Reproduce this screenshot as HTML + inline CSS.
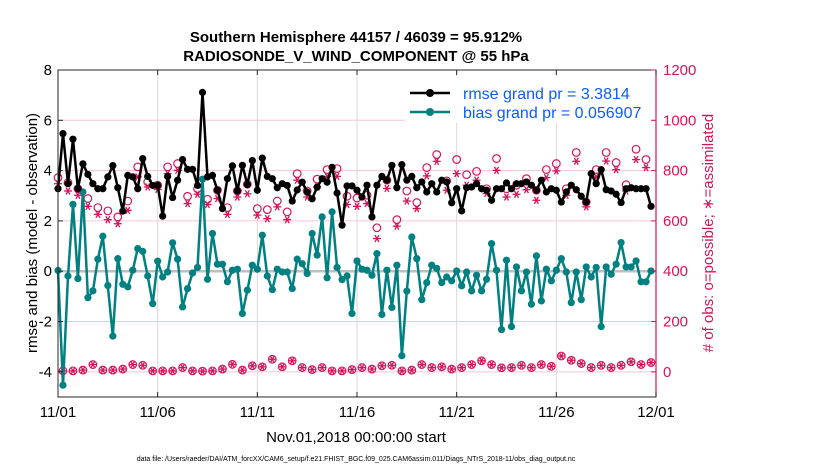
<!DOCTYPE html>
<html><head><meta charset="utf-8"><style>
body{margin:0;background:#fff;}
svg{display:block;font-family:"Liberation Sans",sans-serif;}
</style></head><body>
<svg id="chart" width="830" height="470" viewBox="0 0 830 470">
<text x="356" y="42" text-anchor="middle" font-size="15" font-weight="bold">Southern Hemisphere 44157 / 46039 = 95.912%</text>
<text x="356" y="61" text-anchor="middle" font-size="15" font-weight="bold">RADIOSONDE_V_WIND_COMPONENT @ 55 hPa</text>
<g id="grid"></g>
<g id="series"></g>
<rect x="58" y="70" width="598" height="327" fill="none" stroke="#262626" stroke-width="1"/>
<line x1="656" y1="70" x2="656" y2="397" stroke="#d6145a" stroke-width="1.2"/>
<g id="axes"></g>
<text transform="translate(37,233) rotate(-90)" text-anchor="middle" font-size="15">rmse and bias (model - observation)</text>
<text transform="translate(713,233) rotate(-90)" text-anchor="middle" font-size="15" fill="#d6145a"># of obs: o=possible; ∗=assimilated</text>
<text x="356" y="442" text-anchor="middle" font-size="15">Nov.01,2018 00:00:00 start</text>
<text x="356" y="461" text-anchor="middle" font-size="7">data file: /Users/raeder/DAI/ATM_forcXX/CAM6_setup/f.e21.FHIST_BGC.f09_025.CAM6assim.011/Diags_NTrS_2018-11/obs_diag_output.nc</text>
<g>
<rect x="405" y="76" width="246" height="47" fill="#fff"/>
<line x1="410" y1="93" x2="450" y2="93" stroke="#000" stroke-width="2.5"/>
<circle cx="430" cy="93" r="4" fill="#000"/>
<text x="463" y="99" font-size="16" fill="#0a5cff">rmse grand pr = 3.3814</text>
<line x1="410" y1="112" x2="450" y2="112" stroke="#008080" stroke-width="2.5"/>
<circle cx="430" cy="112" r="4" fill="#008080"/>
<text x="463" y="118" font-size="16" fill="#0a5cff">bias grand pr = 0.056907</text>
</g>
</svg>
<script>
const xTickLabels=["11/01","11/06","11/11","11/16","11/21","11/26","12/01"];
const xTickDays=[0,5,10,15,20,25,30];
const leftTicks=[-4,-2,0,2,4,6,8];
const rightTicks=[0,200,400,600,800,1000,1200];
const rmse=[3.28,5.47,3.48,5.25,3.28,4.27,3.85,3.48,3.28,3.28,3.75,4.2,3.32,2.39,3.81,3.75,3.28,4.48,3.77,3.41,3.41,2.19,3.77,2.93,3.62,4.44,4.05,4.05,3.41,7.11,3.75,
3.81,3.22,2.49,3.68,4.19,3.19,4.21,3.44,4.4,3.22,4.5,3.77,3.68,3.32,3.48,3.41,2.79,3.23,3.54,3.15,2.88,3.34,3.68,3.54,4.13,3.11,1.83,3.39,3.39,3.22,
2.95,3.42,2.16,3.42,3.77,3.62,4.21,3.32,4.24,3.62,3.77,3.32,3.55,3.15,3.48,3.15,3.62,3.55,2.72,3.28,2.4,3.32,3.35,3.48,3.28,3.22,2.82,3.28,3.28,3.51,
3.28,3.48,3.48,3.55,3.42,3.22,3.62,3.15,3.28,3.22,2.75,3.15,3.42,3.24,2.98,2.75,3.88,3.48,4.04,3.24,3.19,3.06,2.73,3.28,3.32,3.28,3.28,3.28,2.58];
const bias=[0.03,-4.53,-0.19,2.66,-0.29,3.15,-1.05,-0.78,0.48,1.39,-0.57,-2.58,0.5,-0.52,-0.62,0.04,0.9,0.79,-0.19,-1.29,0.4,-0.23,-0.03,1.13,0.48,-1.42,-0.69,-0.07,0.15,3.66,-0.32,
1.5,0.28,0.28,-0.42,0.04,0.08,-1.68,-0.75,0.24,0.08,1.43,-0.19,-0.73,0.08,-0.03,-0.03,-0.69,0.48,0.3,-0.09,1.5,0.64,2.16,-0.26,2.36,0.15,-0.33,-0.19,-1.68,0.41,
0.08,0.04,-0.16,0.7,-1.72,0.04,-1.44,0.24,-3.36,-0.79,1.36,0.5,-1.13,-0.45,0.24,0.11,-0.45,-0.23,-0.38,0.01,-0.58,-0.03,-0.78,-0.16,-0.78,-0.32,1.1,0.04,-2.32,0.44,
-2.2,0.17,-0.78,-0.03,-1.31,0.61,-1.18,0.08,-0.38,0.04,0.5,-0.03,-1.25,-0.03,-1.13,0.17,-0.23,0.15,-2.2,0.17,-0.12,0.28,1.14,0.17,0.17,0.41,-0.42,-0.42,0.01];
const obsPossible=[772,752,728,689,653,640,616,679,815,755,742,815,828,698,728,686,
722,653,719,746,649,645,679,636,788,719,766,804,808,698,691,
702,573,762,605,719,673,812,864,759,844,784,797,728,848,728,
742,768,722,804,828,728,872,675,804,872,832,744,885,844];
const obsAssim=[748,719,702,658,626,605,589,642,775,735,725,788,801,669,706,665,
689,626,695,708,623,609,656,605,762,695,735,777,777,665,658,
669,530,729,579,679,649,779,837,722,788,742,762,709,801,695,
706,724,682,772,799,702,837,656,775,838,804,719,844,812];
const obsLow=[4,4,7,29,7,7,11,29,26,4,4,4,17,4,3,
4,11,30,7,24,20,50,20,44,17,9,17,4,4,9,
17,11,24,26,4,7,29,17,20,11,17,29,44,29,16,
17,26,17,29,22,63,46,33,17,26,17,26,40,29,37];

const NS="http://www.w3.org/2000/svg";
const X0=58,X1=656,Y0=70,Y1=397;
const xDay=d=>X0+d*(X1-X0)/30;
const yL=v=>Y1-(v+5)*(Y1-Y0)/13;
const yR=o=>yL(o/100-4);
function mk(tag,attrs,parent){const e=document.createElementNS(NS,tag);for(const k in attrs)e.setAttribute(k,attrs[k]);parent.appendChild(e);return e;}
const grid=document.getElementById('grid'),axes=document.getElementById('axes'),ser=document.getElementById('series');

xTickDays.forEach((d,i)=>{
  const x=xDay(d);
  if(i>0&&i<xTickDays.length-1){const g=mk('line',{x1:x,y1:Y0,x2:x,y2:Y1,stroke:'#d9d9d9','stroke-width':1},grid);
  
  }
  mk('line',{x1:x,y1:Y1,x2:x,y2:Y1-5,stroke:'#262626'},axes);
  mk('line',{x1:x,y1:Y0,x2:x,y2:Y0+5,stroke:'#262626'},axes);
  const t=mk('text',{x:x,y:417,'text-anchor':'middle','font-size':15},axes);
  t.textContent=xTickLabels[i];
  
  
});
rightTicks.forEach(r=>{
  const y=yR(r);
  const g=mk('line',{x1:X0,y1:y,x2:X1,y2:y,stroke:'#f3c6d6','stroke-width':1},grid);
  
  
  mk('line',{x1:X1,y1:y,x2:X1-5,y2:y,stroke:'#d6145a'},axes);
  const t=mk('text',{x:663,y:y+5,'font-size':15,fill:'#d6145a'},axes);
  t.textContent=r;
  
  
});
leftTicks.forEach(v=>{
  const y=yL(v);
  mk('line',{x1:X0,y1:y,x2:X0+5,y2:y,stroke:'#262626'},axes);
  const t=mk('text',{x:52,y:y+5,'text-anchor':'end','font-size':15},axes);
  t.textContent=v;
  
  
});
const zl=mk('line',{x1:X0,y1:yL(0),x2:X1,y2:yL(0),stroke:'#bfbfbf','stroke-width':2.5},grid);



function asterisk(cx,cy,parent){
  const g=mk('g',{stroke:'#d6145a','stroke-width':1.3},parent);
  const r=4;
  mk('line',{x1:cx-r,y1:cy,x2:cx+r,y2:cy},g);
  mk('line',{x1:cx-r*0.5,y1:cy-r*0.87,x2:cx+r*0.5,y2:cy+r*0.87},g);
  mk('line',{x1:cx+r*0.5,y1:cy-r*0.87,x2:cx-r*0.5,y2:cy+r*0.87},g);
  return g;
}
// obs
obsPossible.forEach((o,i)=>{
  const x=xDay(i*0.5);
  const c=mk('circle',{cx:x,cy:yR(o),r:3.8,fill:'none',stroke:'#d6145a','stroke-width':1.2},ser);
  
  
  const a=asterisk(x,yR(obsAssim[i]),ser);
  
  
});
obsLow.forEach((o,i)=>{
  const x=xDay((2*i+1)*0.25);
  const c=mk('circle',{cx:x,cy:yR(o),r:3.8,fill:'none',stroke:'#d6145a','stroke-width':1.2},ser);
  
  
  const a=asterisk(x,yR(o),ser);
  
  
});
function series(vals,color,name){
  const pts=vals.map((v,i)=>xDay(i*0.25).toFixed(1)+','+yL(v).toFixed(1)).join(' ');
  const pl=mk('polyline',{points:pts,fill:'none',stroke:color,'stroke-width':2.5,'stroke-linejoin':'round'},ser);
  
  
  vals.forEach((v,i)=>{
    const c=mk('circle',{cx:xDay(i*0.25),cy:yL(v),r:3.6,fill:color},ser);
    
    
  });
}
series(bias,'#008080','bias');
series(rmse,'#000000','rmse');
</script>
</body></html>
